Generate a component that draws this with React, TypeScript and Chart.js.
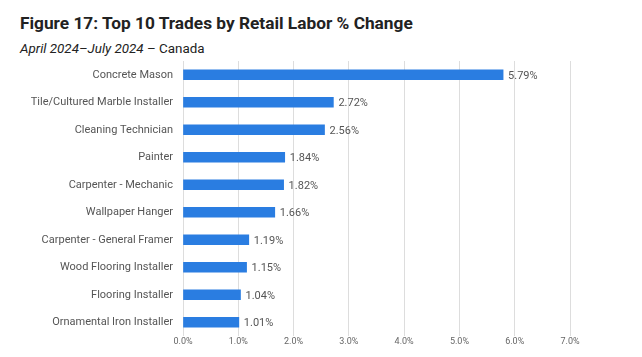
import React, { useEffect, useRef } from "react";
import { Chart, registerables } from "chart.js";

Chart.register(...registerables);

const categories = [
  "Concrete Mason",
  "Tile/Cultured Marble Installer",
  "Cleaning Technician",
  "Painter",
  "Carpenter - Mechanic",
  "Wallpaper Hanger",
  "Carpenter - General Framer",
  "Wood Flooring Installer",
  "Flooring Installer",
  "Ornamental Iron Installer",
];
const values = [5.79, 2.72, 2.56, 1.84, 1.82, 1.66, 1.19, 1.15, 1.04, 1.01];

const FONT = "Roboto, 'Noto Sans', sans-serif";

const valueLabels = {
  id: "valueLabels",
  afterDatasetsDraw(chart: any) {
    const ctx = chart.ctx;
    const meta = chart.getDatasetMeta(0);
    ctx.save();
    ctx.font = `11px ${FONT}`;
    ctx.fillStyle = "#555555";
    ctx.textAlign = "left";
    ctx.textBaseline = "middle";
    meta.data.forEach((bar: any, i: number) => {
      ctx.fillText(values[i].toFixed(2) + "%", bar.x + 5, bar.y + 1);
    });
    ctx.restore();
  },
};

export default function App() {
  const ref = useRef<HTMLCanvasElement>(null);
  useEffect(() => {
    const chart = new Chart(ref.current!, {
      type: "bar",
      data: {
        labels: categories,
        datasets: [
          {
            data: values,
            backgroundColor: "#2a7de1",
            barThickness: 10,
          },
        ],
      },
      options: {
        indexAxis: "y",
        animation: false,
        responsive: false,
        layout: { padding: { top: 61, right: 72, left: 0, bottom: 0 } },
        plugins: { legend: { display: false }, tooltip: { enabled: false } },
        scales: {
          x: {
            min: 0,
            max: 7,
            ticks: {
              stepSize: 1,
              color: "#666666",
              font: { family: FONT, size: 9 },
              padding: 0,
              callback: (v: any) => Number(v).toFixed(1) + "%",
            },
            grid: { color: "#dddddd", drawTicks: false },
            border: { display: false },
            afterFit: (s: any) => {
              s.height = 21;
            },
          },
          y: {
            ticks: {
              color: "#555555",
              font: { family: FONT, size: 11 },
              padding: 10,
            },
            grid: { display: false, drawTicks: false },
            border: { display: false },
            afterFit: (s: any) => {
              s.width = 183;
            },
          },
        },
      },
      plugins: [valueLabels],
    });
    return () => chart.destroy();
  }, []);

  return (
    <div style={{ position: "fixed", left: 0, top: 0, width: 642, height: 357, background: "#fff", fontFamily: FONT }}>
      <div style={{ position: "absolute", left: 20, top: 13, fontSize: 17.3, fontWeight: 700, color: "#222", whiteSpace: "nowrap", lineHeight: "20px" }}>
        Figure 17: Top 10 Trades by Retail Labor % Change
      </div>
      <div style={{ position: "absolute", left: 20, top: 40, fontSize: 13.4, color: "#222", whiteSpace: "nowrap", lineHeight: "18px" }}>
        <i>April 2024–July 2024</i> – Canada
      </div>
      <canvas ref={ref} width={642} height={357} style={{ position: "absolute", left: 0, top: 0 }} />
    </div>
  );
}
